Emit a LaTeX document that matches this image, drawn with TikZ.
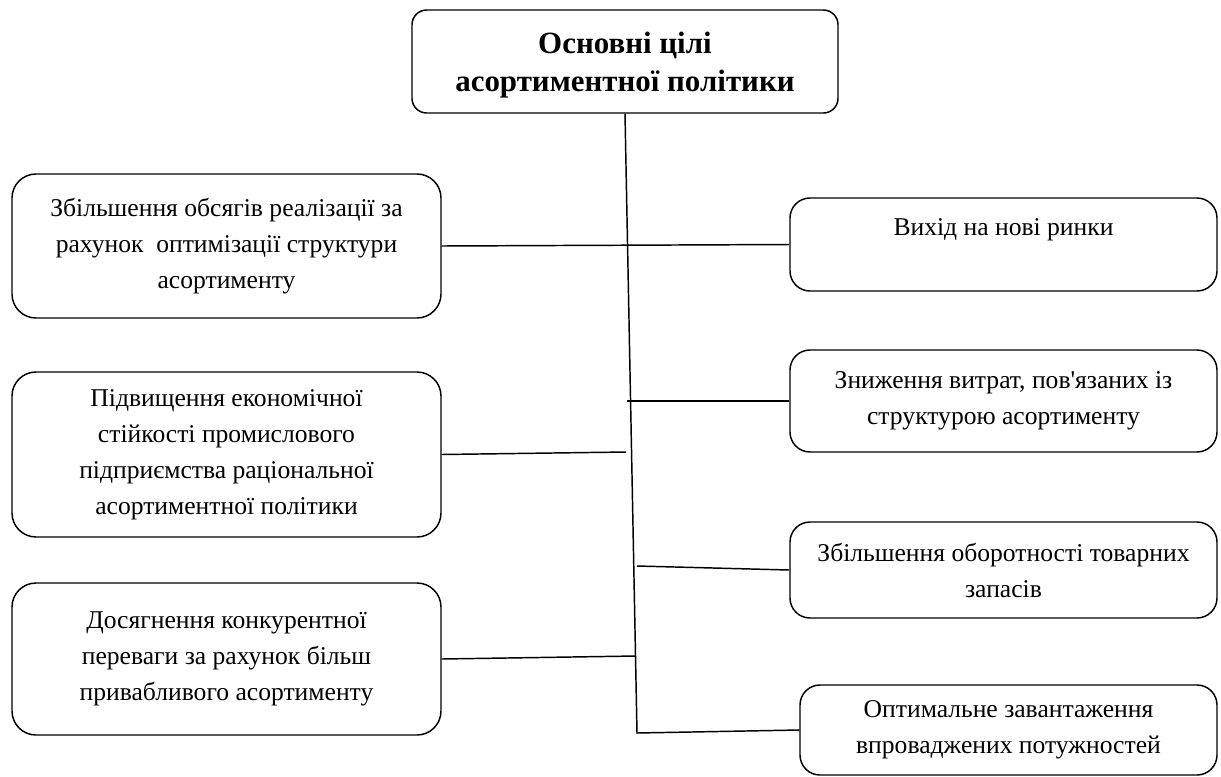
\documentclass[tikz,border=0pt]{standalone}
\usepackage{fontspec}
\setmainfont{Liberation Serif}

\begin{document}
\begin{tikzpicture}[x=0.75pt,y=-0.75pt,
    goal/.style={draw,line width=1.1pt,rounded corners=18pt,align=center,
      inner sep=0pt,font=\fontsize{19.2}{27}\selectfont},
    leftgoal/.style={goal,minimum width=321.75pt},
    rightgoal/.style={goal,rounded corners=15pt,minimum width=320.25pt},
    head/.style={goal,rounded corners=11pt,minimum width=319.5pt,minimum height=77.25pt,
      font=\bfseries\fontsize{23.2}{28.5}\selectfont},
    link/.style={line width=1.1pt}]
  \useasboundingbox (0,0) rectangle (1221,776);

  % main box
  \node[head] (aim) at (625,61.5) {\rule{0pt}{22pt}Основні цілі\\асортиментної політики};

  % left column
  \node[leftgoal,minimum height=108pt] (sales) at (226.5,246)
    {Збільшення обсягів реалізації за\\рахунок\ \ оптимізації структури\\асортименту};
  \node[leftgoal,minimum height=123.75pt] (stab) at (226.5,454.5)
    {Підвищення економічної\\стійкості промислового\\підприємства раціональної\\асортиментної політики};
  \node[leftgoal,minimum height=114pt] (comp) at (226.5,659)
    {Досягнення конкурентної\\переваги за рахунок більш\\привабливого асортименту};

  % right column
  \node[rightgoal,minimum height=69.75pt] (market) at (1003.5,244.5)
    {\rule{0pt}{22pt}Вихід на нові ринки\\\strut};
  \node[rightgoal,minimum height=76.5pt] (cost) at (1003.5,401)
    {Зниження витрат, пов\textquotesingle язаних із\\структурою асортименту};
  \node[rightgoal,minimum height=72pt] (turn) at (1003.5,570)
    {Збільшення оборотності товарних\\запасів};
  \node[rightgoal,minimum width=312.75pt,minimum height=67.5pt] (load) at (1008.5,730)
    {Оптимальне завантаження\\впроваджених потужностей};

  % points on the trunk
  \coordinate (tb) at (637,733);
  \coordinate (t2) at (627,401);
  \coordinate (t3) at (626,452);
  \coordinate (t4) at (637,566);
  \coordinate (t5) at (636,656);

  \draw[link] (aim.south) -- (tb) -- (load.west);
  \draw[link] (sales.east) -- (market.west);
  \draw[link] (t2) -- (cost.west);
  \draw[link] (stab.east) -- (t3);
  \draw[link] (t4) -- (turn.west);
  \draw[link] (comp.east) -- (t5);
\end{tikzpicture}
\end{document}
